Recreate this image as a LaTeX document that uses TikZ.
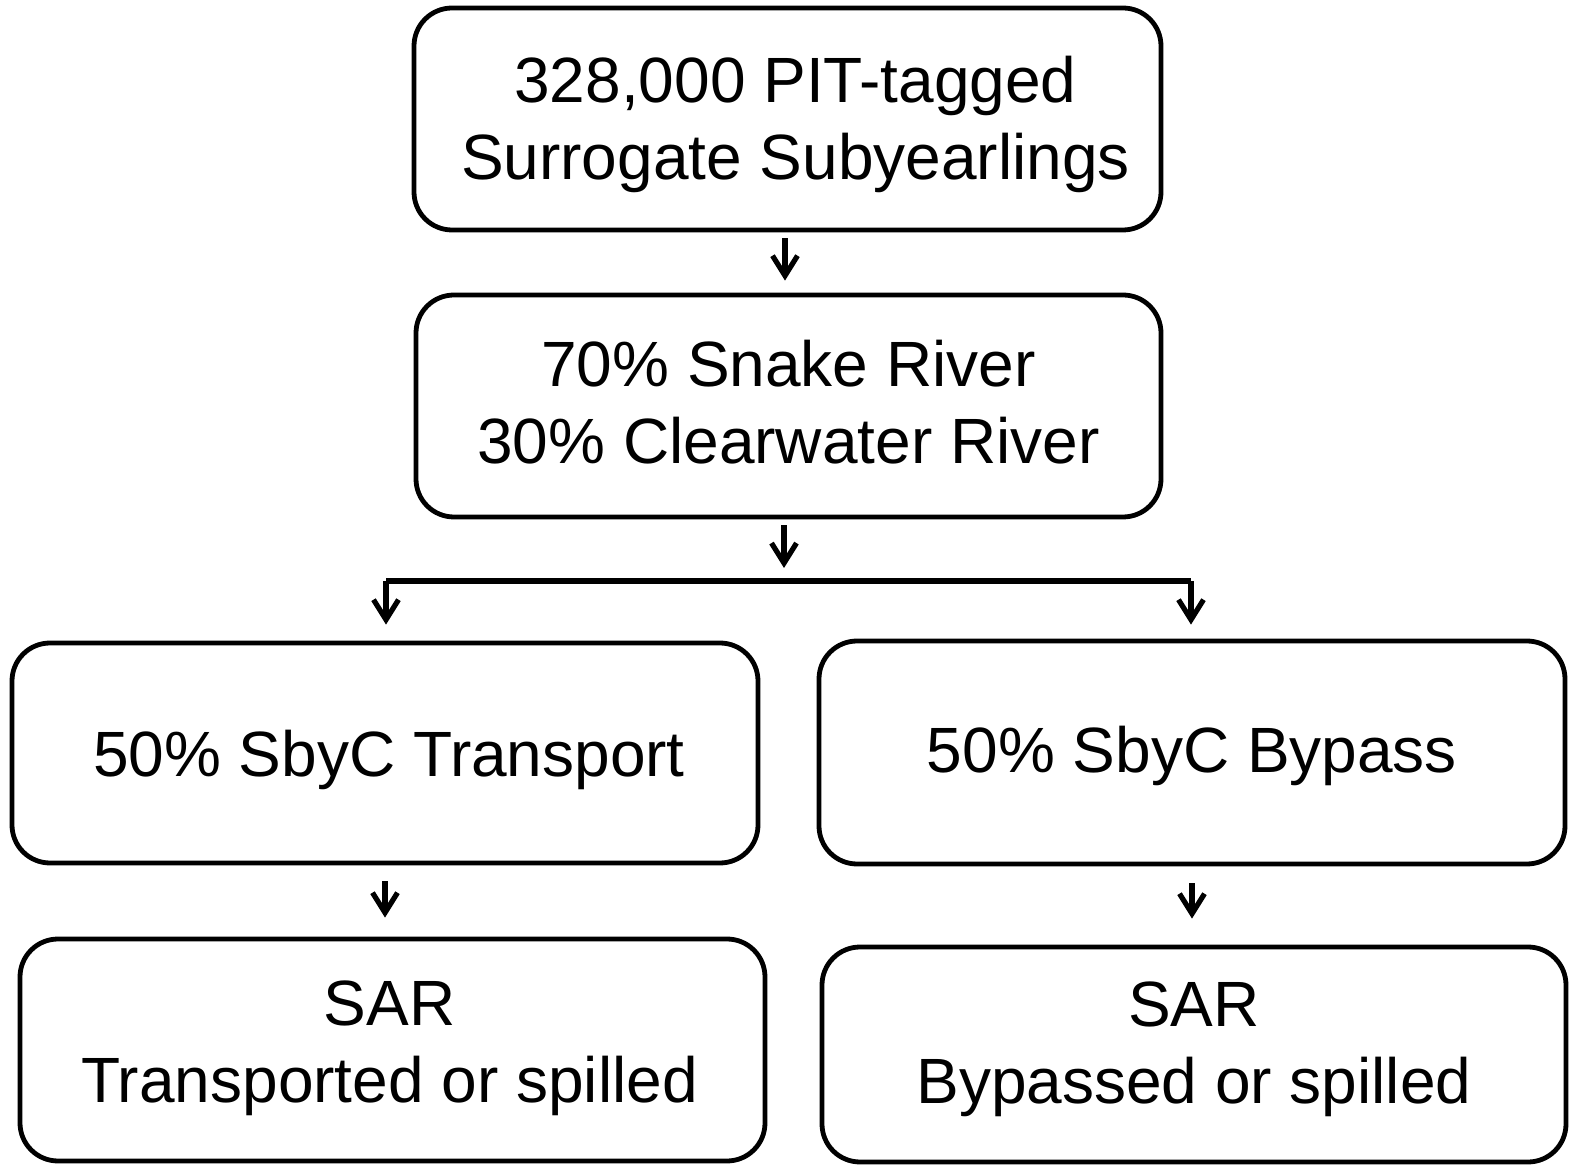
\documentclass[tikz,border=0pt]{standalone}
\usepackage{fontspec}
\setmainfont{Liberation Sans}
\usetikzlibrary{arrows.meta}
\begin{document}
\begin{tikzpicture}[x=0.5pt,y=-0.5pt,
  box/.style={draw=black, line width=2.4pt, rounded corners=19pt, inner sep=0pt},
  txt/.style={align=center, inner sep=0pt, font=\fontsize{32}{38.5}\selectfont},
  conn/.style={line width=2.6pt, draw=black},
  arr/.style={conn, -{Straight Barb[length=10pt,width=12.5pt,line width=2.6pt]}}]
\useasboundingbox (0,0) rectangle (1575,1165);
\node[box, minimum width=373.5pt, minimum height=111pt] (b1) at (787.5,119) {};
\node[box, minimum width=372.5pt, minimum height=111pt] (b2) at (788.5,406) {};
\node[box, minimum width=373pt, minimum height=110pt] (b3) at (385,753) {};
\node[box, minimum width=373pt, minimum height=111.5pt] (b4) at (1192,752.5) {};
\node[box, minimum width=372.5pt, minimum height=111pt] (b5) at (392.5,1050) {};
\node[box, minimum width=372pt, minimum height=107.5pt] (b6) at (1194,1054.5) {};
\node[txt] (t1) at ([shift={(8,5)}]b1.center) {328,000 PIT-tagged\\Surrogate Subyearlings};
\node[txt] (t2) at ([shift={(0,-4)}]b2.center) {70\% Snake River\\30\% Clearwater River};
\node[txt] (t3) at ([shift={(4,7)}]b3.center) {50\% SbyC Transport};
\node[txt] (t4) at ([shift={(0,3)}]b4.center) {50\% SbyC Bypass};
\node[txt] (t5) at ([shift={(-3,-2)}]b5.center) {SAR\\Transported or spilled};
\node[txt] (t6) at ([shift={(0,-5)}]b6.center) {SAR\\Bypassed or spilled};
\coordinate (top) at (785,0);
\coordinate (sm) at (784,581);
\coordinate (sl) at (386,581);
\coordinate (sr) at (1191,581);
\draw[arr, shorten <=3pt, shorten >=6pt] (top |- b1.south) -- (top |- b2.north);
\draw[arr, shorten <=3pt, shorten >=6.5pt] (sm |- b2.south) -- (sm);
\draw[conn] (sl) -- (sr);
\draw[arr, shorten >=8pt] (sl) -- (sl |- b3.north);
\draw[arr, shorten >=7pt] (sr) -- (sr |- b4.north);
\draw[arr, shorten <=8pt, shorten >=9.5pt] (b3.south) -- (b3.south |- b5.north);
\draw[arr, shorten <=8.5pt, shorten >=13pt] (b4.south) -- (b4.south |- b6.north);
\end{tikzpicture}
\end{document}
